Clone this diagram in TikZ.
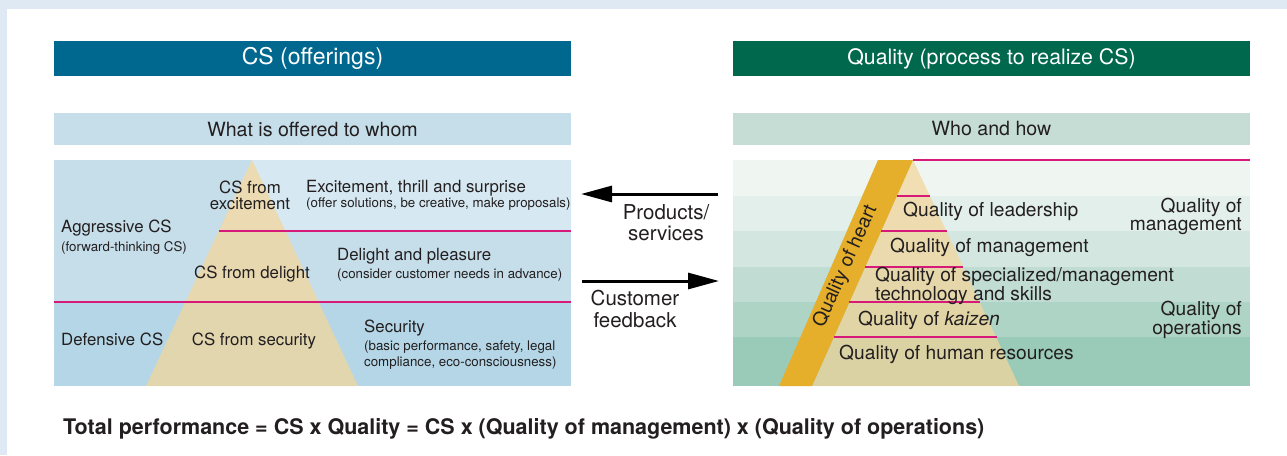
\documentclass[tikz,border=0pt]{standalone}
\usepackage{fontspec}
\setmainfont{TeX Gyre Heros}
\usepackage{xcolor}
\usetikzlibrary{arrows.meta}

\definecolor{frameblue}{HTML}{DEE9F3}
\definecolor{csblue}{HTML}{00688F}
\definecolor{qgreen}{HTML}{00684C}
\definecolor{cshead}{HTML}{C5DEEA}
\definecolor{qhead}{HTML}{C6DDD5}
\definecolor{csA}{HTML}{D6E8F1}
\definecolor{csB}{HTML}{C5DEEA}
\definecolor{csC}{HTML}{B4D6E6}
\definecolor{qA}{HTML}{EFF6F2}
\definecolor{qB}{HTML}{E2EFEA}
\definecolor{qC}{HTML}{D3E6DF}
\definecolor{qD}{HTML}{C1DDD3}
\definecolor{qE}{HTML}{AED4C6}
\definecolor{qF}{HTML}{9ACAB8}
\definecolor{pyr}{HTML}{F3D69C}
\definecolor{heart}{HTML}{E5AE2B}
\definecolor{rulepink}{HTML}{D7197A}
\definecolor{txt}{HTML}{231F20}

\begin{document}
\begin{tikzpicture}[x=1pt,y=-1pt,
    bar/.style={minimum width=517pt,minimum height=35pt,inner sep=0pt,text=white,font=\fontsize{23}{23}\selectfont},
    subbar/.style={minimum width=517pt,minimum height=32pt,inner sep=0pt,text=txt,font=\fontsize{19.6}{19.6}\selectfont},
    lbl/.style={inner sep=0pt,text=txt,font=\fontsize{16.8}{16}\selectfont,text height=0.95em,text depth=0.25em},
    lbls/.style={inner sep=0pt,text=txt,font=\fontsize{16.8}{16}\selectfont,align=center},
    note/.style={inner sep=0pt,text=txt,font=\fontsize{13.3}{16}\selectfont,text height=0.95em,text depth=0.25em},
    notes/.style={inner sep=0pt,text=txt,font=\fontsize{13.3}{16}\selectfont,align=left},
    qlbl/.style={inner sep=0pt,text=txt,font=\fontsize{19.2}{16}\selectfont,text height=0.95em,text depth=0.25em},
    qlbls/.style={inner sep=0pt,text=txt,font=\fontsize{19.2}{16}\selectfont},
    mid/.style={inner sep=0pt,text=txt,font=\fontsize{20.5}{21.5}\selectfont,align=center},
    rule/.style={draw=rulepink,line width=1.5pt},
    flow/.style={line width=3pt,-{Triangle[length=31pt,width=16pt]}}
]
    \useasboundingbox (0,0) rectangle (1287,455);
    \fill[white] (0,0) rectangle (1287,455);
    \fill[frameblue] (0,0) rectangle (1287,9);
    \fill[frameblue] (0,0) rectangle (7,455);

    % Headers
    \node[bar,fill=csblue] (cstitle) at (312.5,58.5) {CS (offerings)};
    \node[bar,fill=qgreen,font=\fontsize{21.3}{21.3}\selectfont] (qtitle) at (991.5,58.5) {Quality (process to realize CS)};
    \node[subbar,fill=cshead] (cssub) at (312.5,129) {What is offered to whom};
    \node[subbar,fill=qhead] (qsub) at (991.5,129) {Who and how};

    % CS panel
    \fill[csB] (54,160) rectangle (571,302);
    \fill[csA] (252,160) -- (571,160) -- (571,231) -- (219,231) -- cycle;
    \fill[csC] (54,302) rectangle (571,386);
    \fill[pyr,fill opacity=0.74] (252,160) -- (358,386) -- (146,386) -- cycle;
    \draw[rule] (219,231) -- (571,231);
    \draw[rule] (54,302) -- (571,302);

    \node[lbls] (csexc) at (250,195) {CS from\\excitement};
    \node[lbl,anchor=west] (exchead) at (306,189) {Excitement, thrill and surprise};
    \node[note,anchor=west] (excnote) at (306,204) {(offer solutions, be creative, make proposals)};
    \node[lbl,anchor=west] (aggr) at (61,229) {Aggressive CS};
    \node[note,anchor=west] (aggrnote) at (61,248) {(forward-thinking CS)};
    \node[lbl] (csdel) at (252,275) {CS from delight};
    \node[lbl,anchor=west] (delhead) at (337,257) {Delight and pleasure};
    \node[note,anchor=west] (delnote) at (337,275) {(consider customer needs in advance)};
    \node[lbl,anchor=west] (defn) at (61,342) {Defensive CS};
    \node[lbl] (cssec) at (254,342) {CS from security};
    \node[lbl,anchor=west] (sechead) at (364,329) {Security};
    \node[notes,anchor=west] (secnote) at (364,355) {(basic performance, safety, legal\\compliance, eco-consciousness)};

    % Quality panel
    \fill[qA] (733,160) rectangle (1250,196);
    \fill[qB] (733,196) rectangle (1250,231);
    \fill[qC] (733,231) rectangle (1250,267);
    \fill[qD] (733,267) rectangle (1250,302);
    \fill[qE] (733,302) rectangle (1250,337);
    \fill[qF] (733,337) rectangle (1250,386);
    \fill[pyr,fill opacity=0.74] (913,160) -- (1019,386) -- (812,386) -- cycle;
    \fill[heart] (878,160) -- (913,160) -- (812,386) -- (779,386) -- cycle;
    \draw[rule] (913,160) -- (1250,160);
    \draw[rule] (897,196) -- (930,196);
    \draw[rule] (881,231) -- (947,231);
    \draw[rule] (865,267) -- (963,267);
    \draw[rule] (849,302) -- (980,302);
    \draw[rule] (834,337) -- (997,337);

    \node[qlbl,rotate=66] (qheart) at (847,267) {Quality of heart};
    \node[qlbl,anchor=west] (qlead) at (903,213) {Quality of leadership};
    \node[qlbl,anchor=west] (qmgmt) at (890,249) {Quality of management};
    \node[qlbls,anchor=west,align=left] (qtech) at (875,286) {Quality of specialized/management\\technology and skills};
    \node[qlbl,anchor=west] (qkaizen) at (858,322) {Quality of \textit{kaizen}};
    \node[qlbl,anchor=west] (qhr) at (839,356) {Quality of human resources};
    \node[qlbls,anchor=east,align=right] (qofmgmt) at (1242,216) {Quality of\\management};
    \node[qlbls,anchor=east,align=right] (qofops) at (1242,320) {Quality of\\operations};

    % Exchange
    \coordinate (prodS) at (718,194);
    \coordinate (prodE) at (581,194);
    \coordinate (fbS) at (582,281);
    \coordinate (fbE) at (719,281);
    \draw[flow] (prodS) -- (prodE);
    \draw[flow] (fbS) -- (fbE);
    \node[mid] (prod) at (666,222.5) {Products/\\services};
    \node[mid] (fb) at (635,309) {Customer\\feedback};

    % Formula
    \node[inner sep=0pt,anchor=west,text=txt,font=\fontsize{21.5}{21.5}\selectfont\bfseries] (formula) at (63,429)
        {Total performance = CS x Quality = CS x (Quality of management) x (Quality of operations)};
\end{tikzpicture}
\end{document}
